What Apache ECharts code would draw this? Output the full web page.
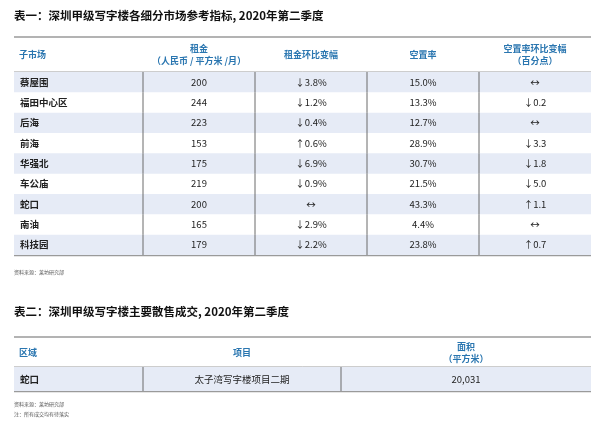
<!DOCTYPE html>
<html><head><meta charset="utf-8">
<script src="https://cdn.jsdelivr.net/npm/echarts@6/dist/echarts.min.js"></script>
<style>html,body{margin:0;padding:0;background:#fff}#c{width:600px;height:422px}</style>
</head><body><div id="c"></div>
<script>
const markets = ['蔡屋围','福田中心区','后海','前海','华强北','车公庙','蛇口','南油','科技园'];
const rent = ['200','244','223','153','175','219','200','165','179'];
const rentChange = ['↓3.8%','↓1.2%','↓0.4%','↑0.6%','↓6.9%','↓0.9%','↔','↓2.9%','↓2.2%'];
const vacancy = ['15.0%','13.3%','12.7%','28.9%','30.7%','21.5%','43.3%','4.4%','23.8%'];
const vacChange = ['↔','↓0.2','↔','↓3.3','↓1.8','↓5.0','↑1.1','↔','↑0.7'];
const t2Region = ['蛇口'];
const t2Project = ['太子湾写字楼项目二期'];
const t2Area = ['20,031'];

const F = '"Noto Sans CJK SC","Noto Sans",sans-serif';
const BLUE = '#2a76b0', STRIPE = '#e6ebf6', DIV = '#6a6a6a', RULE = '#9a9a9a';
const edges1 = [0,129,241,353,465,577];
const edges2 = [0,129,327,577];

const cols1 = [markets, rent, rentChange, vacancy, vacChange];
const cells1 = [];
markets.forEach((m,r)=>cols1.forEach((c,ci)=>cells1.push([ci,r,c[r]])));
const cols2 = [t2Region, t2Project, t2Area];
const cells2 = [];
t2Region.forEach((m,r)=>cols2.forEach((c,ci)=>cells2.push([ci,r,c[r]])));

function cells(params){ return params.seriesIndex===0?cells1:cells2; }
function cellRenderer(edges){
  return function(params, api){
    const col = api.value(0), row = api.value(1), txt = cells(params)[params.dataIndex][2];
    const rh = api.size([0,1])[1];
    const cy = api.coord([0,row])[1];
    const x0 = api.coord([edges[col],row])[0], x1 = api.coord([edges[col+1],row])[0];
    const ch = [];
    if (row % 2 === 0 && col === 0) {
      const xe = api.coord([edges[edges.length-1],row])[0];
      ch.push({type:'rect',shape:{x:x0,y:cy-rh/2,width:xe-x0,height:rh},style:{fill:STRIPE},z2:0});
    }
    if (col > 0) ch.push({type:'line',shape:{x1:x0,y1:cy-rh/2,x2:x0,y2:cy+rh/2},style:{stroke:DIV,lineWidth:1},z2:2});
    ch.push({type:'text',x:col===0?x0+6:(x0+x1)/2,y:cy,style:{text:txt,fill:'#222',font:(col===0?'bold ':'')+'9.5px '+F,
      align:col===0?'left':'center',verticalAlign:'middle'},z2:3});
    return {type:'group',children:ch};
  };
}

const chart = echarts.init(document.getElementById('c'));
const hdr = (x,y,t,align)=>({type:'text',x:x,y:y,style:{text:t,fill:BLUE,font:'bold 9px '+F,align:align||'center',verticalAlign:'middle',lineHeight:12}});
chart.setOption({
  animation:false,
  grid:[{left:14,right:9,top:72,height:183},{left:14,right:9,top:367,height:24}],
  xAxis:[{gridIndex:0,type:'value',min:0,max:577,show:false},{gridIndex:1,type:'value',min:0,max:577,show:false}],
  yAxis:[{gridIndex:0,type:'category',data:markets,inverse:true,show:false},
         {gridIndex:1,type:'category',data:t2Region,inverse:true,show:false}],
  series:[
    {type:'custom',xAxisIndex:0,yAxisIndex:0,data:cells1.map(d=>[d[0],d[1]]),renderItem:cellRenderer(edges1)},
    {type:'custom',xAxisIndex:1,yAxisIndex:1,data:cells2.map(d=>[d[0],d[1]]),renderItem:cellRenderer(edges2)}
  ],
  graphic:[
    {type:'text',x:14,y:16,style:{text:'表一：深圳甲级写字楼各细分市场参考指标, 2020年第二季度',fill:'#111',font:'bold 11.5px '+F,verticalAlign:'middle'}},
    {type:'line',shape:{x1:14,y1:37,x2:591,y2:37},style:{stroke:RULE,lineWidth:1.5}},
    hdr(19,55,'子市场','left'),
    hdr(199,55,'租金\n（人民币 / 平方米 /月）'),
    hdr(311,55,'租金环比变幅'),
    hdr(423,55,'空置率'),
    hdr(535,55,'空置率环比变幅\n（百分点）'),
    {type:'line',shape:{x1:14,y1:72,x2:591,y2:72},style:{stroke:RULE,lineWidth:1}},
    {type:'line',shape:{x1:14,y1:255.5,x2:591,y2:255.5},style:{stroke:RULE,lineWidth:1.5}},
    {type:'text',x:14,y:272,style:{text:'资料来源：莱坊研究部',fill:'#555',font:'5px '+F,verticalAlign:'middle'}},
    {type:'text',x:14,y:312,style:{text:'表二：深圳甲级写字楼主要散售成交, 2020年第二季度',fill:'#111',font:'bold 11.5px '+F,verticalAlign:'middle'}},
    {type:'line',shape:{x1:14,y1:337,x2:591,y2:337},style:{stroke:RULE,lineWidth:1.5}},
    hdr(19,353,'区域','left'),
    hdr(242,353,'项目'),
    hdr(466,353,'面积\n（平方米）'),
    {type:'line',shape:{x1:14,y1:367,x2:591,y2:367},style:{stroke:RULE,lineWidth:1}},
    {type:'line',shape:{x1:14,y1:391.5,x2:591,y2:391.5},style:{stroke:RULE,lineWidth:1.5}},
    {type:'text',x:14,y:409,style:{text:'资料来源：莱坊研究部\n注：所有成交均有待落实',fill:'#555',font:'5px '+F,verticalAlign:'middle',lineHeight:10}}
  ]
});
</script></body></html>
